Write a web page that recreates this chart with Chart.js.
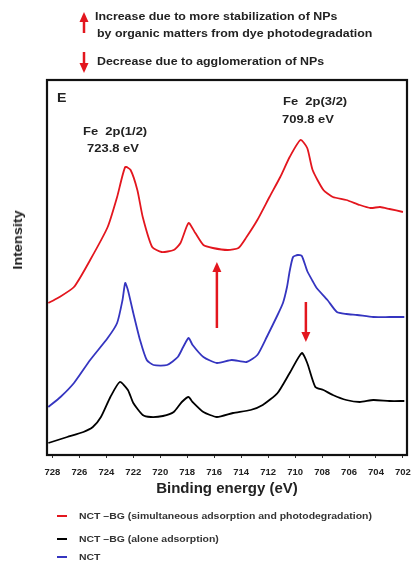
<!DOCTYPE html>
<html>
<head>
<meta charset="utf-8">
<script src="https://cdn.jsdelivr.net/npm/chart.js@4"></script>
<style>
  html,body{margin:0;padding:0;background:#fff;}
  #wrap{position:relative;width:414px;height:565px;overflow:hidden;font-family:"Liberation Sans",Arial,sans-serif;color:#222;}
  canvas{position:absolute;left:0;top:0;}
  .t{position:absolute;white-space:nowrap;font-weight:bold;line-height:1;transform-origin:left center;transform:scaleX(1.18);}
  .leg{position:absolute;left:57px;font-size:9px;font-weight:bold;color:#333;white-space:nowrap;line-height:1;}
  .leg span{display:inline-block;width:10px;height:2px;vertical-align:middle;margin-right:12px;position:relative;top:-1px;}
  .leg b{display:inline-block;transform-origin:left center;transform:scaleX(1.16);}
</style>
</head>
<body>
<div id="wrap">
  <canvas id="c" width="414" height="565"></canvas>
  <div class="t" style="left:95px;top:11px;font-size:10.5px;">Increase due to more stabilization of NPs</div>
  <div class="t" style="left:97px;top:28px;font-size:10.5px;">by organic matters from dye photodegradation</div>
  <div class="t" style="left:97px;top:56px;font-size:10.5px;">Decrease due to agglomeration of NPs</div>
  <div class="t" style="left:57px;top:92px;font-size:12px;">E</div>
  <div class="t" style="left:283px;top:96px;font-size:11px;">Fe&nbsp; 2p(3/2)</div>
  <div class="t" style="left:282px;top:114px;font-size:11px;">709.8 eV</div>
  <div class="t" style="left:83px;top:126px;font-size:11px;">Fe&nbsp; 2p(1/2)</div>
  <div class="t" style="left:87px;top:143px;font-size:11px;">723.8 eV</div>
  <div style="position:absolute;left:18px;top:240px;font-size:12px;font-weight:bold;white-space:nowrap;line-height:1;transform:translate(-50%,-50%) rotate(-90deg) scaleX(1.2);">Intensity</div>
  <div class="leg" style="top:512px;"><span style="background:#e3161e"></span><b>NCT –BG (simultaneous adsorption and photodegradation)</b></div>
  <div class="leg" style="top:535px;"><span style="background:#000"></span><b>NCT –BG (alone adsorption)</b></div>
  <div class="leg" style="top:553px;"><span style="background:#3535c0"></span><b>NCT</b></div>
</div>
<script>
// ---- data (binding energy in eV, intensity in arbitrary units) ----
const redE = [728.3,727.6,726.4,725.2,723.9,723.2,722.6,722.2,721.7,721.3,720.6,719.9,719.0,718.5,717.9,717.4,716.8,716.1,715.0,714.2,713.6,712.8,711.9,711.1,710.4,709.6,709.1,708.7,707.9,707.2,706.2,705.2,704.4,703.7,703.0,702.0];
const redI = [152,157,168,195,228,258,288,285,265,238,208,203,205,212,232,222,210,207,205,207,218,235,258,278,298,315,307,285,265,258,255,250,247,248,246,243];

const blueE = [728.3,727.4,726.4,725.2,723.9,723.2,722.8,722.6,722.4,722.0,721.5,721.0,720.5,719.5,718.7,718.3,717.9,717.6,716.8,715.8,714.7,713.6,712.8,712.1,711.3,710.9,710.6,710.4,710.15,709.8,709.5,709.1,708.7,708.4,707.6,706.9,706.2,705.4,704.2,703.0,701.9];
const blueI = [48,58,72,95,117,132,155,172,165,142,115,95,90,90,98,108,117,110,98,92,95,93,100,118,140,152,168,184,198,200,199,184,174,167,155,143,141,140,138,138,138];

const blackE = [728.3,726.9,725.7,725.0,724.4,723.7,723.0,722.4,722.0,721.3,720.7,719.8,719.0,718.4,717.9,717.6,716.8,715.8,714.6,713.3,712.4,711.3,710.4,709.5,709.1,708.5,707.9,707.2,706.2,705.2,704.2,703.0,701.9];
const blackI = [12,18,23,28,38,58,73,65,52,40,38,39,43,53,58,53,43,38,42,45,50,62,82,102,92,68,65,60,55,53,55,54,54];

const tickValues = [728,726,724,722,720,718,716,714,712,710,708,706,704,702];

// annotation arrows in data units: [energy, fromIntensity, toIntensity]
const upArrow = [715.8, 127, 193];
const downArrow = [709.2, 153, 113];

const RED = '#e3161e', BLUE = '#3535c0', BLACK = '#000';

function pts(E, I){ return E.map((e,i)=>({x:e,y:I[i]})); }

function arrow(ctx, x, y1, y2, color){
  const dir = y2 < y1 ? -1 : 1; // -1 up
  ctx.save();
  ctx.strokeStyle = color; ctx.fillStyle = color; ctx.lineWidth = 2.5;
  ctx.beginPath(); ctx.moveTo(x, y1); ctx.lineTo(x, y2 - dir*6); ctx.stroke();
  ctx.beginPath(); ctx.moveTo(x, y2); ctx.lineTo(x-4.5, y2 - dir*10); ctx.lineTo(x+4.5, y2 - dir*10); ctx.closePath(); ctx.fill();
  ctx.restore();
}

const deco = {
  id:'deco',
  afterDatasetsDraw(chart){
    const {ctx, chartArea:a, scales:{x,y}} = chart;
    ctx.save();
    ctx.strokeStyle = '#111'; ctx.lineWidth = 2.2;
    ctx.strokeRect(a.left, a.top, a.right-a.left, a.bottom-a.top);
    ctx.restore();
    arrow(ctx, x.getPixelForValue(upArrow[0]), y.getPixelForValue(upArrow[1]), y.getPixelForValue(upArrow[2]), RED);
    arrow(ctx, x.getPixelForValue(downArrow[0]), y.getPixelForValue(downArrow[1]), y.getPixelForValue(downArrow[2]), RED);
    // header legend arrows
    arrow(ctx, 84, 33, 12, RED);
    arrow(ctx, 84, 52, 73, RED);
  }
};

new Chart(document.getElementById('c'), {
  type:'line',
  data:{datasets:[
    {label:'NCT–BG (simultaneous adsorption and photodegradation)', data:pts(redE,redI), borderColor:RED, borderWidth:1.8, pointRadius:0, tension:0.2, fill:false},
    {label:'NCT', data:pts(blueE,blueI), borderColor:BLUE, borderWidth:1.8, pointRadius:0, tension:0.2, fill:false},
    {label:'NCT–BG (alone adsorption)', data:pts(blackE,blackI), borderColor:BLACK, borderWidth:1.8, pointRadius:0, tension:0.2, fill:false}
  ]},
  options:{
    responsive:false, animation:false,
    layout:{padding:{left:0,top:80,right:7,bottom:67}},
    plugins:{legend:{display:false}, tooltip:{enabled:false}},
    scales:{
      x:{type:'linear', reverse:true, min:701.7, max:728.4,
        afterBuildTicks:s=>{s.ticks = tickValues.map(v=>({value:v}));},
        afterFit:s=>{s.height = 43; s.paddingLeft = 0; s.paddingRight = 0;},
        grid:{display:true, drawOnChartArea:false, drawTicks:true, tickLength:3, color:'#333', lineWidth:1}, border:{display:false},
        ticks:{color:'#222', font:{family:'Liberation Sans', size:9.5, weight:'bold'}, padding:9, maxRotation:0, autoSkip:false},
        title:{display:true, text:'Binding energy (eV)', color:'#222', font:{family:'Liberation Sans', size:15, weight:'bold'}, padding:{top:4,bottom:0}}
      },
      y:{min:0, max:375, afterFit:s=>{s.width = 47;}, grid:{display:false}, border:{display:false}, ticks:{display:false}}
    }
  },
  plugins:[deco]
});
</script>
</body>
</html>
